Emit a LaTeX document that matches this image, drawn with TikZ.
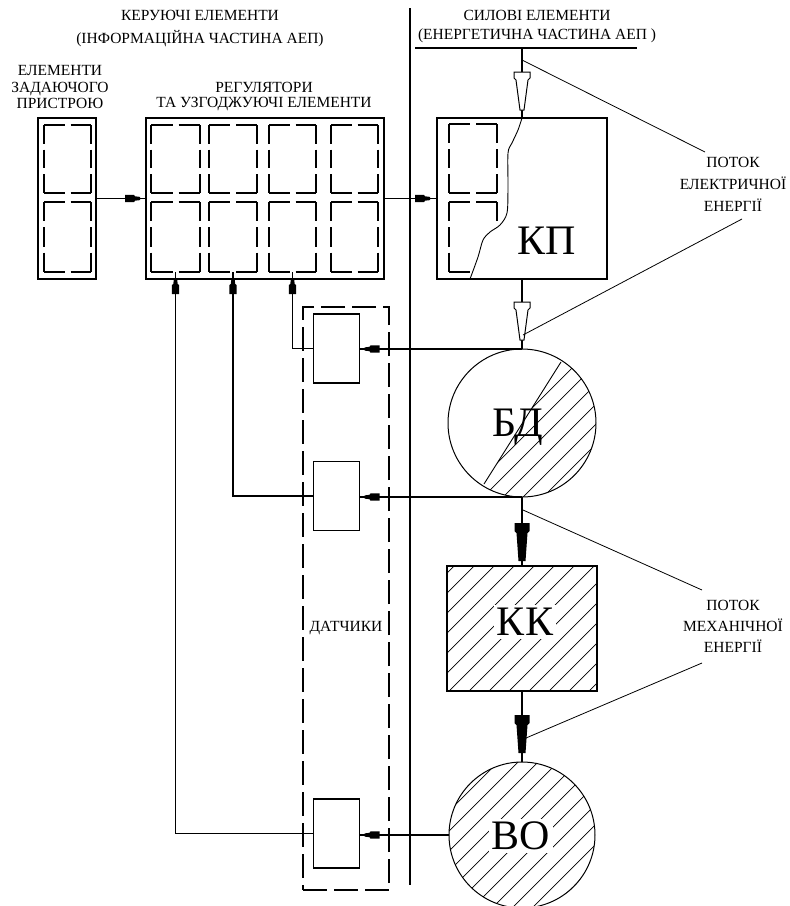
\documentclass[tikz,border=0pt]{standalone}
\usepackage{fontspec}
\setmainfont{Liberation Serif}
\usetikzlibrary{decorations.markings,calc}

\newcommand\innerdash[5]{% name, x1, y1, x2, y2
  \node[inner sep=0pt,outer sep=0pt,minimum width={#4-#2},minimum height={#5-#3}] (#1) at ({(#2+#4)/2},{(#3+#5)/2}) {};
  \pgfmathsetmacro\dashh{(#4-#2-6)/2}
  \pgfmathsetmacro\dashv{(#5-#3-12)/3}
  \draw[dbx,dash pattern=on \dashh pt off 6pt] (#2,#3) -- (#4,#3) (#2,#5) -- (#4,#5);
  \draw[dbx,dash pattern=on \dashv pt off 6pt] (#2,#3) -- (#2,#5) (#4,#3) -- (#4,#5);
}
\newcommand\hollowtip[1]{\draw[line width=1pt,fill=white] (#1) ++(-8,0) -- ++(16,0) -- ++(0,6) -- ++(-2,2) -- ++(-4,30) -- ++(-4,0) -- ++(-4,-30) -- ++(-2,-2) -- cycle;}
\newcommand\blacktip[1]{\fill (#1) ++(-7.5,0) -- ++(15,0) -- ++(0,8) -- ++(-2,2) -- ++(-2,28) -- ++(-7,0) -- ++(-2,-28) -- ++(-2,-2) -- cycle;}

\begin{document}
\begin{tikzpicture}[x=1pt,y=-1pt,
  outerbox/.style={draw,line width=1.6pt,inner sep=0pt,outer sep=0pt},
  sensorbox/.style={draw,line width=1.3pt,inner sep=0pt,outer sep=0pt,minimum width=46pt,minimum height=69pt},
  circ/.style={draw,circle,line width=1pt,inner sep=0pt,outer sep=0pt},
  lbl/.style={font=\fontsize{15.5}{16.5}\selectfont,align=center,inner sep=0pt},
  big/.style={font=\fontsize{42}{42}\selectfont,inner sep=1pt},
  dbx/.style={line width=1.3pt},
  conn/.style={line width=1.2pt},
  leader/.style={line width=0.8pt},
  hatch/.style={line width=0.7pt},
  fb/.style={conn,postaction={decorate},decoration={markings,mark=at position -#1 with {\fill (0,-1.6) -- (-5,-2.2) -- (-6,-3.6) -- (-15,-3.6) -- (-15,3.6) -- (-6,3.6) -- (-5,2.2) -- (0,1.6) -- cycle;}}},
]
\useasboundingbox (0,0) rectangle (790,906);

% headings
\node[lbl,font=\fontsize{15.5}{23}\selectfont] (hleft) at (200,28.5) {КЕРУЮЧІ ЕЛЕМЕНТИ\\(ІНФОРМАЦІЙНА ЧАСТИНА АЕП)};
\node[lbl,font=\fontsize{15.5}{19}\selectfont] (hright) at (537,26.5) {СИЛОВІ ЕЛЕМЕНТИ\\(ЕНЕРГЕТИЧНА ЧАСТИНА АЕП )};
\node[lbl] (hzad) at (60,87) {ЕЛЕМЕНТИ\\ЗАДАЮЧОГО\\ПРИСТРОЮ};
\node[lbl,font=\fontsize{15.5}{15}\selectfont] (hreg) at (264,97) {РЕГУЛЯТОРИ\\ТА УЗГОДЖУЮЧІ ЕЛЕМЕНТИ};
\node[lbl,font=\fontsize{15.5}{22}\selectfont] (hel) at (733,184) {ПОТОК\\ЕЛЕКТРИЧНОЇ\\ЕНЕРГІЇ};
\node[lbl,font=\fontsize{15.5}{21}\selectfont] (hmech) at (733,626) {ПОТОК\\МЕХАНІЧНОЇ\\ЕНЕРГІЇ};

% divider and underline
\coordinate (dtop) at (410,8);
\coordinate (dbot) at (410,885);
\draw[line width=1.6pt] (dtop) -- (dbot);
\coordinate (ul1) at (415,48);
\coordinate (ul2) at (637,48);
\draw[line width=1.3pt] (ul1) -- (ul2);

% main boxes
\node[outerbox,minimum width=58pt,minimum height=161pt] (zad) at (67,198.5) {};
\node[outerbox,minimum width=238pt,minimum height=161pt] (reg) at (265,198.5) {};
\node[outerbox,minimum width=170pt,minimum height=161pt] (kp) at (522,198.5) {};

\innerdash{z1}{44}{125}{91}{193}
\innerdash{z2}{44}{202}{91}{272}
\innerdash{rt1}{151}{125}{200}{193}
\innerdash{rt2}{209}{125}{257}{193}
\innerdash{rt3}{269}{125}{316}{193}
\innerdash{rt4}{331}{125}{378}{193}
\innerdash{rb1}{151}{202}{200}{272}
\innerdash{rb2}{209}{202}{257}{272}
\innerdash{rb3}{269}{202}{316}{272}
\innerdash{rb4}{331}{202}{378}{272}

\begin{scope}
\clip (437,118) -- (523,118) -- (518,130) -- (512,143) -- (508,153) -- (508,187) -- (507,213) -- (500,225) -- (490,232) -- (483,240) -- (478,257) -- (470,279) -- (437,279) -- cycle;
\innerdash{kt}{449}{124}{497}{193}
\innerdash{kb}{449}{202}{497}{272}
\end{scope}
\draw[line width=0.9pt] plot[smooth] coordinates {(522,118) (518,130) (512,143) (508,153) (508,187) (507,213) (500,225) (490,232) (483,240) (478,257) (470,279)};
\node[big] (kpt) at (547,241) {КП};

% sensors
\node[draw,line width=1.3pt,dash pattern=on 24pt off 7pt,inner sep=0pt,outer sep=0pt,minimum width=86pt,minimum height=583pt] (dat) at (346,598.5) {};
\node[sensorbox] (s1) at (336.5,348.5) {};
\node[sensorbox] (s2) at (336.5,496) {};
\node[sensorbox] (s3) at (336.5,833.5) {};
\node[lbl] (datl) at (346,628) {ДАТЧИКИ};

% БД
\node[circ,minimum size=148pt] (bd) at (522,423) {};
\begin{scope}
\clip (bd.center) circle (74);
\clip (445.5,545) -- (599.5,301) -- (700,301) -- (700,545) -- cycle;
\foreach \c in {840,860,...,1060} \draw[hatch] (\c-300,300) -- (\c-560,560);
\end{scope}
\coordinate (dia1) at (484,484);
\coordinate (dia2) at (561,362);
\draw[line width=0.9pt] (dia1) -- (dia2);
\node[big] (bdt) at (518,427) {БД};

% КК
\node[outerbox,minimum width=150pt,minimum height=125pt] (kk) at (522,628.5) {};
\begin{scope}
\clip (kk.south west) rectangle (kk.north east);
\foreach \c in {1000,1020,...,1300} \draw[hatch] (\c-560,560) -- (\c-700,700);
\end{scope}
\node[big,fill=white,inner sep=3pt] (kkt) at (525,622) {КК};

% ВО
\node[circ,minimum size=146pt] (vo) at (522,835) {};
\begin{scope}
\clip (vo.center) circle (73);
\foreach \c in {1240,1260,...,1480} \draw[hatch] (\c-750,750) -- (\c-920,920);
\end{scope}
\node[big,fill=white,inner sep=3pt] (vot) at (521,836) {ВО};

% information connectors
\draw[fb=6pt] (zad.east) -- (reg.west);
\draw[fb=7pt] (reg.east) -- (kp.west);
\draw[fb=5pt] (bd.north) -- (bd.north -| s1.east);
\draw[fb=5pt] (bd.south) -- (bd.south -| s2.east);
\draw[fb=5pt] (vo.west) -- (vo.west -| s3.east);
\draw[fb=7pt] (s1.west) -| (rb3.south);
\draw[fb=7pt] (s2.west) -| (rb2.south);
\draw[fb=7pt] (s3.west) -| (rb1.south);

% power flow
\coordinate (pw) at (522,48);
\draw[conn] (pw) -- (kp.north);
\draw[conn] (kp.south) -- (bd.north);
\draw[conn] (bd.south) -- (kk.north);
\draw[conn] (kk.south) -- (vo.north);
\coordinate (ha1) at (522,72);
\coordinate (ha2) at (522,302);
\coordinate (ba1) at (522,523);
\coordinate (ba2) at (522,715);
\hollowtip{ha1}
\hollowtip{ha2}
\blacktip{ba1}
\blacktip{ba2}

% leaders
\coordinate (l1a) at (522,60);  \coordinate (l1b) at (705,152);
\coordinate (l2a) at (742,219); \coordinate (l2b) at (523,335);
\coordinate (l3a) at (523,510); \coordinate (l3b) at (702,590);
\coordinate (l4a) at (702,663); \coordinate (l4b) at (526,738);
\draw[leader] (l1a) -- (l1b);
\draw[leader] (l2a) -- (l2b);
\draw[leader] (l3a) -- (l3b);
\draw[leader] (l4a) -- (l4b);
\end{tikzpicture}
\end{document}
